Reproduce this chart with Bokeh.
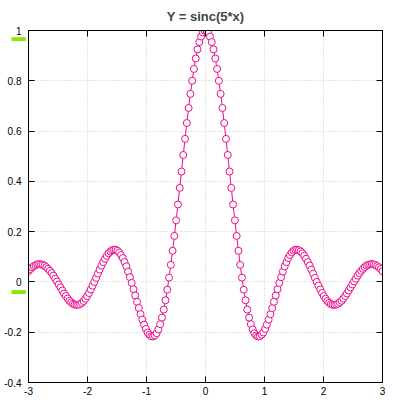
from bokeh.plotting import figure
from bokeh.models import FixedTicker, LinearAxis, Range1d, CustomJSTickFormatter
from bokeh.embed import file_html
from bokeh.resources import INLINE

TITLE = "Y = sinc(5*x)"

X_VALUES = [
    -3.0000, -2.9698, -2.9397, -2.9095, -2.8794, -2.8492, -2.8191, -2.7889, -2.7588, -2.7286,
    -2.6985, -2.6683, -2.6382, -2.6080, -2.5779, -2.5477, -2.5176, -2.4874, -2.4573, -2.4271,
    -2.3970, -2.3668, -2.3367, -2.3065, -2.2764, -2.2462, -2.2161, -2.1859, -2.1558, -2.1256,
    -2.0955, -2.0653, -2.0352, -2.0050, -1.9749, -1.9447, -1.9146, -1.8844, -1.8543, -1.8241,
    -1.7940, -1.7638, -1.7337, -1.7035, -1.6734, -1.6432, -1.6131, -1.5829, -1.5528, -1.5226,
    -1.4925, -1.4623, -1.4322, -1.4020, -1.3719, -1.3417, -1.3116, -1.2814, -1.2513, -1.2211,
    -1.1910, -1.1608, -1.1307, -1.1005, -1.0704, -1.0402, -1.0101, -0.9799, -0.9497, -0.9196,
    -0.8894, -0.8593, -0.8291, -0.7990, -0.7688, -0.7387, -0.7085, -0.6784, -0.6482, -0.6181,
    -0.5879, -0.5578, -0.5276, -0.4975, -0.4673, -0.4372, -0.4070, -0.3769, -0.3467, -0.3166,
    -0.2864, -0.2563, -0.2261, -0.1960, -0.1658, -0.1357, -0.1055, -0.0754, -0.0452, -0.0151,
    0.0151, 0.0452, 0.0754, 0.1055, 0.1357, 0.1658, 0.1960, 0.2261, 0.2563, 0.2864,
    0.3166, 0.3467, 0.3769, 0.4070, 0.4372, 0.4673, 0.4975, 0.5276, 0.5578, 0.5879,
    0.6181, 0.6482, 0.6784, 0.7085, 0.7387, 0.7688, 0.7990, 0.8291, 0.8593, 0.8894,
    0.9196, 0.9497, 0.9799, 1.0101, 1.0402, 1.0704, 1.1005, 1.1307, 1.1608, 1.1910,
    1.2211, 1.2513, 1.2814, 1.3116, 1.3417, 1.3719, 1.4020, 1.4322, 1.4623, 1.4925,
    1.5226, 1.5528, 1.5829, 1.6131, 1.6432, 1.6734, 1.7035, 1.7337, 1.7638, 1.7940,
    1.8241, 1.8543, 1.8844, 1.9146, 1.9447, 1.9749, 2.0050, 2.0352, 2.0653, 2.0955,
    2.1256, 2.1558, 2.1859, 2.2161, 2.2462, 2.2764, 2.3065, 2.3367, 2.3668, 2.3970,
    2.4271, 2.4573, 2.4874, 2.5176, 2.5477, 2.5779, 2.6080, 2.6382, 2.6683, 2.6985,
    2.7286, 2.7588, 2.7889, 2.8191, 2.8492, 2.8794, 2.9095, 2.9397, 2.9698, 3.0000,
]

Y_VALUES = [
    0.043, 0.051, 0.058, 0.063, 0.067, 0.070, 0.071, 0.070, 0.068, 0.065,
    0.059, 0.052, 0.044, 0.035, 0.025, 0.013, 0.002, -0.010, -0.022, -0.034,
    -0.046, -0.056, -0.066, -0.075, -0.081, -0.087, -0.090, -0.091, -0.091, -0.088,
    -0.083, -0.076, -0.067, -0.056, -0.044, -0.030, -0.015, 0.000, 0.016, 0.033,
    0.049, 0.065, 0.079, 0.092, 0.104, 0.114, 0.121, 0.126, 0.128, 0.128,
    0.124, 0.117, 0.107, 0.095, 0.079, 0.062, 0.041, 0.019, -0.004, -0.029,
    -0.054, -0.079, -0.104, -0.128, -0.150, -0.170, -0.187, -0.201, -0.210, -0.216,
    -0.217, -0.213, -0.204, -0.189, -0.168, -0.142, -0.110, -0.073, -0.031, 0.017,
    0.068, 0.124, 0.183, 0.245, 0.308, 0.374, 0.439, 0.505, 0.569, 0.632,
    0.692, 0.748, 0.800, 0.847, 0.889, 0.925, 0.954, 0.976, 0.992, 0.999,
    0.999, 0.992, 0.976, 0.954, 0.925, 0.889, 0.847, 0.800, 0.748, 0.692,
    0.632, 0.569, 0.505, 0.439, 0.374, 0.308, 0.245, 0.183, 0.124, 0.068,
    0.017, -0.031, -0.073, -0.110, -0.142, -0.168, -0.189, -0.204, -0.213, -0.217,
    -0.216, -0.210, -0.201, -0.187, -0.170, -0.150, -0.128, -0.104, -0.079, -0.054,
    -0.029, -0.004, 0.019, 0.041, 0.062, 0.079, 0.095, 0.107, 0.117, 0.124,
    0.128, 0.128, 0.126, 0.121, 0.114, 0.104, 0.092, 0.079, 0.065, 0.049,
    0.033, 0.016, 0.000, -0.015, -0.030, -0.044, -0.056, -0.067, -0.076, -0.083,
    -0.088, -0.091, -0.091, -0.090, -0.087, -0.081, -0.075, -0.066, -0.056, -0.046,
    -0.034, -0.022, -0.010, 0.002, 0.013, 0.025, 0.035, 0.044, 0.052, 0.059,
    0.065, 0.068, 0.070, 0.071, 0.070, 0.067, 0.063, 0.058, 0.051, 0.043,
]

X_TICKS = [-3, -2, -1, 0, 1, 2, 3]
X_TICK_LABELS = ["-3", "-2", "-1", "0", "1", "2", "3"]
Y_TICKS = [-0.4, -0.2, 0, 0.2, 0.4, 0.6, 0.8, 1]
Y_TICK_LABELS = ["-0.4", "-0.2", "0", "0.2", "0.4", "0.6", "0.8", "1"]
# the two little green key marks left of the axis sit just under the "1" and "0" labels
KEY_MARK_Y = [0.967, -0.041]
KEY_MARK_TEXT = "\u2501"

LINE_COLOR = "#ec0a8c"
KEY_COLOR = "#8ae600"
FONT = "Liberation Sans"

p = figure(
    width=385, height=401,
    x_range=Range1d(-3, 3), y_range=Range1d(-0.4, 1),
    output_backend="svg", toolbar_location=None,
    title=TITLE,
    min_border_left=28, min_border_right=3, min_border_top=28, min_border_bottom=19,
    background_fill_color="white", border_fill_color="white",
)
p.title.align = "center"
p.title.text_font = FONT
p.title.text_font_size = "13px"
p.title.text_font_style = "bold"
p.title.standoff = 13
p.title.offset = 0

p.outline_line_color = "black"
p.outline_line_width = 1

for ax, ticks, labels in ((p.xaxis[0], X_TICKS, X_TICK_LABELS), (p.yaxis[0], Y_TICKS, Y_TICK_LABELS)):
    ax.ticker = FixedTicker(ticks=ticks)
    ax.major_label_overrides = {t: l for t, l in zip(ticks, labels)}
    ax.major_tick_in = 6
    ax.major_tick_out = 0
    ax.minor_tick_in = 0
    ax.minor_tick_out = 0
    ax.axis_line_color = "black"
    ax.major_tick_line_color = "black"
    ax.major_label_text_font = FONT
    ax.major_label_text_font_size = "10px"
    ax.major_label_text_color = "black"
p.xaxis[0].major_label_standoff = 4
p.yaxis[0].major_label_standoff = 7

blank = CustomJSTickFormatter(code="return ''")
right_ax = LinearAxis(ticker=FixedTicker(ticks=Y_TICKS), formatter=blank, major_tick_in=6,
                      major_tick_out=0, minor_tick_in=0, minor_tick_out=0,
                      major_label_standoff=0)
top_ax = LinearAxis(ticker=FixedTicker(ticks=X_TICKS), formatter=blank, major_tick_in=6,
                    major_tick_out=0, minor_tick_in=0, minor_tick_out=0,
                    major_label_standoff=0)
p.add_layout(right_ax, "right")
p.add_layout(top_ax, "above")

# key marks drawn as labels of an extra outer left axis, pulled back in with a negative standoff
key_ax = LinearAxis(ticker=FixedTicker(ticks=KEY_MARK_Y),
                    major_label_overrides={t: KEY_MARK_TEXT for t in KEY_MARK_Y},
                    axis_line_color=None, major_tick_line_color=None,
                    minor_tick_line_color=None, major_tick_in=0, major_tick_out=0,
                    minor_tick_in=0, minor_tick_out=0, major_label_standoff=-24,
                    major_label_text_color=KEY_COLOR, major_label_text_font="DejaVu Sans Mono",
                    major_label_text_font_size="23px")
p.add_layout(key_ax, "left")

for g in (p.xgrid[0], p.ygrid[0]):
    g.grid_line_color = "#c8c8c8"
    g.grid_line_dash = "1 2"
    g.grid_line_width = 1
p.xgrid[0].ticker = FixedTicker(ticks=X_TICKS)
p.ygrid[0].ticker = FixedTicker(ticks=Y_TICKS)

p.line(X_VALUES, Y_VALUES, line_color=LINE_COLOR, line_width=1)
p.scatter(X_VALUES, Y_VALUES, marker="circle", size=7, line_color=LINE_COLOR,
          fill_color="white", line_width=1)

open("out.html", "w").write(file_html(p, INLINE))
